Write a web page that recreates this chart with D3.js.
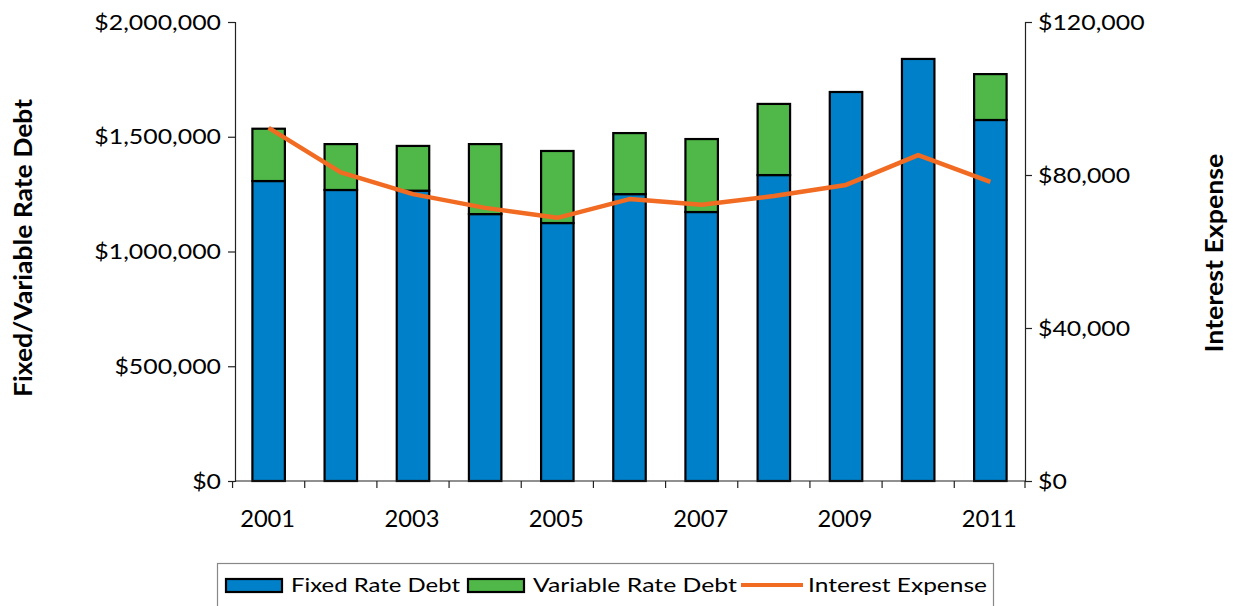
<!DOCTYPE html>
<html>
<head>
<meta charset="utf-8">
<script src="https://cdn.jsdelivr.net/npm/d3@7"></script>
<style>
  html, body { margin: 0; padding: 0; background: #fff; }
  svg { display: block; font-family: Lato, "Open Sans", sans-serif; }
</style>
</head>
<body>
<svg id="chart" width="1233" height="606"></svg>
<script>
// Debt composition and interest expense by year
const years = ["2001","2002","2003","2004","2005","2006","2007","2008","2009","2010","2011"];
const fixedDebt    = [1307000, 1268000, 1265000, 1163000, 1124000, 1250000, 1172000, 1333000, 1695000, 1839000, 1573000];
const variableDebt = [ 228000,  200000,  195000,  305000,  314000,  266000,  318000,  310000,       0,       0,  200000];
const interestExpense = [92300, 80700, 75000, 71400, 68800, 73700, 72200, 74500, 77400, 85200, 78200];
const leftTicks  = [0, 500000, 1000000, 1500000, 2000000];
const rightTicks = [0, 40000, 80000, 120000];
const labeledYears = ["2001","2003","2005","2007","2009","2011"];

const colors = { fixed: "#0080C8", variable: "#4FB848", interest: "#F26B22" };

const svg = d3.select("#chart");
const m = { left: 235, right: 1025, top: 22, bottom: 481 };

const x = d3.scaleBand().domain(years).range([m.left - 1, m.right])
  .paddingInner(0.55).paddingOuter(0.255);
const yL = d3.scaleLinear().domain([0, 2000000]).range([m.bottom, m.top]);
const yR = d3.scaleLinear().domain([0, 120000]).range([m.bottom, m.top]);

const money = d3.format("$,");

// Widen text horizontally by a factor (the typeface is set in a slightly stretched layout)
function stretch(sel, factor) {
  sel.each(function () {
    const w = this.getComputedTextLength();
    d3.select(this).attr("textLength", w * factor).attr("lengthAdjust", "spacingAndGlyphs");
  });
}

// Stacked bars
const rows = years.map((yr, i) => ({ year: yr, fixed: fixedDebt[i], variable: variableDebt[i] }));
const stack = d3.stack().keys(["fixed", "variable"])(rows);

svg.append("g").selectAll("g").data(stack).join("g")
  .attr("fill", d => colors[d.key])
  .selectAll("rect")
  .data(d => d.filter(p => p[1] - p[0] > 0))
  .join("rect")
  .attr("x", d => x(d.data.year))
  .attr("width", x.bandwidth())
  .attr("y", d => yL(d[1]))
  .attr("height", d => yL(d[0]) - yL(d[1]))
  .attr("stroke", "#000")
  .attr("stroke-width", 2.2);

// Interest expense line
const line = d3.line()
  .x((d, i) => x(years[i]) + x.bandwidth() / 2)
  .y(d => yR(d));
svg.append("path").datum(interestExpense)
  .attr("d", line)
  .attr("fill", "none")
  .attr("stroke", colors.interest)
  .attr("stroke-width", 4.5)
  .attr("stroke-linejoin", "round");

// Axes
const axisColor = "#222";
const leftAxis = svg.append("g").attr("transform", `translate(${m.left},0)`)
  .call(d3.axisLeft(yL).tickValues(leftTicks).tickFormat(money).tickSize(7).tickPadding(7));
const rightAxis = svg.append("g").attr("transform", `translate(${m.right},0)`)
  .call(d3.axisRight(yR).tickValues(rightTicks).tickFormat(money).tickSize(7).tickPadding(6));

[leftAxis, rightAxis].forEach(g => {
  g.select(".domain").attr("stroke", axisColor).attr("stroke-width", 1.2);
  g.selectAll(".tick line").attr("stroke", axisColor).attr("stroke-width", 1.2);
  g.selectAll("text").attr("font-size", 22).attr("fill", "#000").attr("font-family", "Lato, sans-serif");
  stretch(g.selectAll("text"), 1.13);
});

// X axis: tick marks at category boundaries, labels every other year
const xAxis = svg.append("g");
xAxis.append("line")
  .attr("x1", m.left).attr("x2", m.right)
  .attr("y1", m.bottom).attr("y2", m.bottom)
  .attr("stroke", axisColor).attr("stroke-width", 1.2);
const boundaries = years.map(yr => x(yr) - x.step() * x.paddingInner() / 2).concat([m.right]);
xAxis.selectAll("line.tick").data(boundaries).join("line")
  .attr("class", "tick")
  .attr("x1", d => d).attr("x2", d => d)
  .attr("y1", m.bottom).attr("y2", m.bottom + 7)
  .attr("stroke", axisColor).attr("stroke-width", 1.2);
const xLabels = xAxis.selectAll("text").data(labeledYears).join("text")
  .attr("x", d => x(d) + x.bandwidth() / 2 - 1)
  .attr("y", 527)
  .attr("text-anchor", "middle")
  .attr("font-size", 23)
  .text(d => d);
stretch(xLabels, 1.03);

// Axis titles
const leftTitle = svg.append("text")
  .attr("transform", "translate(32,248) rotate(-90)")
  .attr("text-anchor", "middle")
  .attr("font-size", 25).attr("font-weight", "bold")
  .text("Fixed/Variable Rate Debt");
stretch(leftTitle, 1.06);
const rightTitle = svg.append("text")
  .attr("transform", "translate(1223,253) rotate(-90)")
  .attr("text-anchor", "middle")
  .attr("font-size", 25).attr("font-weight", "bold")
  .text("Interest Expense");
stretch(rightTitle, 1.07);

// Legend
const legend = svg.append("g");
legend.append("rect")
  .attr("x", 217.5).attr("y", 563.5).attr("width", 776).attr("height", 50)
  .attr("fill", "#fff").attr("stroke", "#888").attr("stroke-width", 1.2);
const items = [
  { label: "Fixed Rate Debt", kind: "box", color: colors.fixed, x: 225, tx: 291, len: 169 },
  { label: "Variable Rate Debt", kind: "box", color: colors.variable, x: 467, tx: 533, len: 204 },
  { label: "Interest Expense", kind: "line", color: colors.interest, x: 741, tx: 808, len: 179 }
];
items.forEach(it => {
  if (it.kind === "box") {
    legend.append("rect")
      .attr("x", it.x + 1).attr("y", 579).attr("width", 56).attr("height", 13)
      .attr("fill", it.color).attr("stroke", "#000").attr("stroke-width", 2.2);
  } else {
    legend.append("line")
      .attr("x1", it.x).attr("x2", it.x + 62).attr("y1", 585).attr("y2", 585)
      .attr("stroke", it.color).attr("stroke-width", 4);
  }
  legend.append("text")
    .attr("x", it.tx)
    .attr("y", 592)
    .attr("font-size", 19)
    .attr("textLength", it.len)
    .attr("lengthAdjust", "spacingAndGlyphs")
    .text(it.label);
});
</script>
</body>
</html>
